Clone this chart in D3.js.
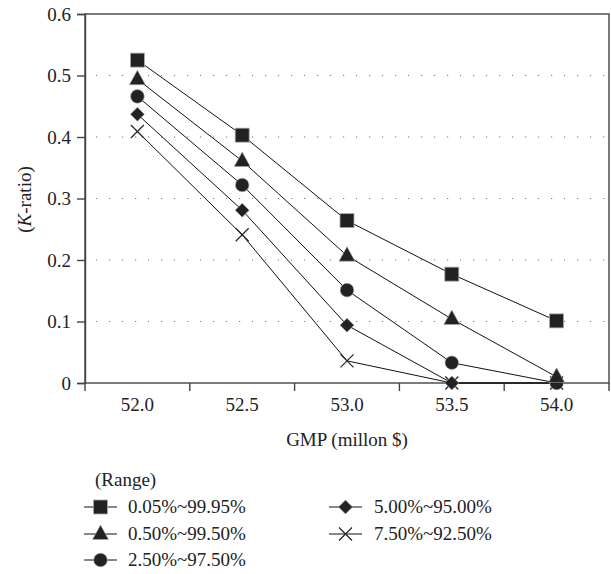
<!DOCTYPE html>
<html>
<head>
<meta charset="utf-8">
<script src="https://cdn.jsdelivr.net/npm/d3@7"></script>
<style>
    body { margin: 0; background: #fff; }
    .gridLines { stroke: #777; stroke-width: 1.2; stroke-dasharray: 1.2,11.8; }
    .frame { fill: none; stroke: #444; stroke-width: 1.4; }
    .series { fill: none; stroke: #111; stroke-width: 1; }
</style>
</head>
<body>
<script>
//chart data
var gmpLabels = ["52.0", "52.5", "53.0", "53.5", "54.0"];
var yTicks = [0, 0.1, 0.2, 0.3, 0.4, 0.5, 0.6];
var rangeNames = ["0.05%~99.95%", "0.50%~99.50%", "2.50%~97.50%", "5.00%~95.00%", "7.50%~92.50%"];
var markerTypes = ["square", "triangle", "circle", "diamond", "cross"];
var kSquare   = [0.525, 0.403, 0.264, 0.177, 0.101];
var kTriangle = [0.494, 0.361, 0.207, 0.104, 0.010];
var kCircle   = [0.466, 0.322, 0.151, 0.033, 0.000];
var kDiamond  = [0.437, 0.281, 0.094, 0.000, 0.000];
var kCross    = [0.409, 0.241, 0.036, 0.000, 0.000];
var seriesValues = [kSquare, kTriangle, kCircle, kDiamond, kCross];

(function(){
    var width = 611, height = 574;
    var margin = {left: 85, top: 14, right: 2, bottom: 191};
    var innerW = width - margin.left - margin.right,
        innerH = height - margin.top - margin.bottom;
    var font = "'Liberation Serif'",
        fontSize = "19px";

    var svg = d3.select("body").append("svg")
        .attr("width", width)
        .attr("height", height);

    var g = svg.append("g")
        .attr("transform", "translate(" + margin.left + "," + margin.top + ")");

    var x = d3.scaleBand()
        .domain(gmpLabels)
        .range([0, innerW]);

    var y = d3.scaleLinear()
        .domain([0, 0.6])
        .range([innerH, 0]);

    //dotted gridlines
    g.selectAll(".gridLines")
        .data(yTicks.slice(1, -1))
        .enter()
        .append("line")
        .attr("class", "gridLines")
        .attr("x1", 11)
        .attr("x2", innerW)
        .attr("y1", function(d){ return y(d); })
        .attr("y2", function(d){ return y(d); });

    //frame
    g.append("rect")
        .attr("class", "frame")
        .attr("width", innerW)
        .attr("height", innerH);

    //y axis
    var yAxis = d3.axisLeft(y)
        .tickValues(yTicks)
        .tickSize(8)
        .tickPadding(6)
        .tickFormat(function(d){ return d === 0 ? "0" : d3.format(".1f")(d); });

    var ya = g.append("g").call(yAxis);
    ya.attr("font-family", null).attr("font-size", null);
    ya.select(".domain").attr("stroke", "#444").attr("stroke-width", 1.4);
    ya.selectAll(".tick line").attr("stroke", "#444").attr("stroke-width", 1.4);
    ya.selectAll(".tick text")
        .style("font-family", font)
        .style("font-size", fontSize)
        .attr("fill", "#222");

    //x axis labels at band centers
    var xAxis = d3.axisBottom(x)
        .tickSize(0)
        .tickPadding(15);
    var xa = g.append("g")
        .attr("transform", "translate(0," + innerH + ")")
        .call(xAxis);
    xa.attr("font-family", null).attr("font-size", null);
    xa.select(".domain").remove();
    xa.selectAll(".tick text")
        .style("font-family", font)
        .style("font-size", fontSize)
        .attr("fill", "#222");

    //x ticks at band boundaries
    var bounds = gmpLabels.map(function(d){ return x(d); }).concat([x.range()[1]]);
    g.selectAll(".xTick")
        .data(bounds)
        .enter()
        .append("line")
        .attr("stroke", "#444")
        .attr("stroke-width", 1.4)
        .attr("x1", function(d){ return d; })
        .attr("x2", function(d){ return d; })
        .attr("y1", innerH)
        .attr("y2", innerH + 8);

    //axis titles
    var yt = svg.append("text")
        .attr("transform", "translate(31," + (margin.top + innerH / 2 + 1) + ") rotate(-90)")
        .attr("text-anchor", "middle")
        .style("font-family", font)
        .style("font-size", fontSize)
        .attr("fill", "#222");
    yt.append("tspan").text("(");
    yt.append("tspan").style("font-style", "italic").text("K");
    yt.append("tspan").text("-ratio)");

    svg.append("text")
        .attr("x", 347)
        .attr("y", 446)
        .attr("text-anchor", "middle")
        .style("font-family", font)
        .style("font-size", fontSize)
        .attr("fill", "#222")
        .text("GMP (millon $)");

    //marker drawing
    function drawMarker(sel, type){
        if (type === "square"){
            sel.append("rect")
                .attr("x", -7).attr("y", -7).attr("width", 14).attr("height", 14)
                .attr("fill", "#222").attr("stroke", "#aaa").attr("stroke-width", 0.8);
        } else if (type === "triangle"){
            sel.append("path")
                .attr("d", "M0,-9L8,5.5L-8,5.5Z")
                .attr("fill", "#222").attr("stroke", "#aaa").attr("stroke-width", 0.6);
        } else if (type === "circle"){
            sel.append("circle")
                .attr("r", 6.8)
                .attr("fill", "#222").attr("stroke", "#aaa").attr("stroke-width", 0.6);
        } else if (type === "diamond"){
            sel.append("path")
                .attr("d", "M0,-7L7,0L0,7L-7,0Z")
                .attr("fill", "#222").attr("stroke", "#aaa").attr("stroke-width", 0.6);
        } else {
            sel.append("path")
                .attr("d", "M-6.5,-6.5L6.5,6.5M-6.5,6.5L6.5,-6.5")
                .attr("fill", "none").attr("stroke", "#222").attr("stroke-width", 1.2);
        }
    }

    var line = d3.line()
        .x(function(d, i){ return x(gmpLabels[i]) + x.bandwidth() / 2; })
        .y(function(d){ return y(d); });

    //draw series back to front
    for (var s = seriesValues.length - 1; s >= 0; s--){
        g.append("path")
            .datum(seriesValues[s])
            .attr("class", "series")
            .attr("d", line);
    }
    for (var s2 = seriesValues.length - 1; s2 >= 0; s2--){
        var vals = seriesValues[s2];
        for (var i = 0; i < vals.length; i++){
            var m = g.append("g")
                .attr("transform", "translate(" + (x(gmpLabels[i]) + x.bandwidth() / 2) + "," + y(vals[i]) + ")");
            drawMarker(m, markerTypes[s2]);
        }
    }

    //legend
    svg.append("text")
        .attr("x", 95)
        .attr("y", 486)
        .style("font-family", font)
        .style("font-size", fontSize)
        .attr("fill", "#222")
        .text("(Range)");

    var legendPos = [
        {x: 84, y: 507}, {x: 84, y: 534}, {x: 84, y: 560},
        {x: 329, y: 507}, {x: 329, y: 534}
    ];
    rangeNames.forEach(function(name, i){
        var lg = svg.append("g")
            .attr("transform", "translate(" + legendPos[i].x + "," + legendPos[i].y + ")");
        lg.append("line")
            .attr("x1", 0).attr("x2", 33)
            .attr("stroke", "#111").attr("stroke-width", 1);
        var mk = lg.append("g").attr("transform", "translate(16.5,0)");
        drawMarker(mk, markerTypes[i]);
        lg.append("text")
            .attr("x", i < 3 ? 44 : 45)
            .attr("y", 6)
            .style("font-family", font)
            .style("font-size", fontSize)
            .attr("fill", "#222")
            .text(name);
    });
})();
</script>
</body>
</html>
